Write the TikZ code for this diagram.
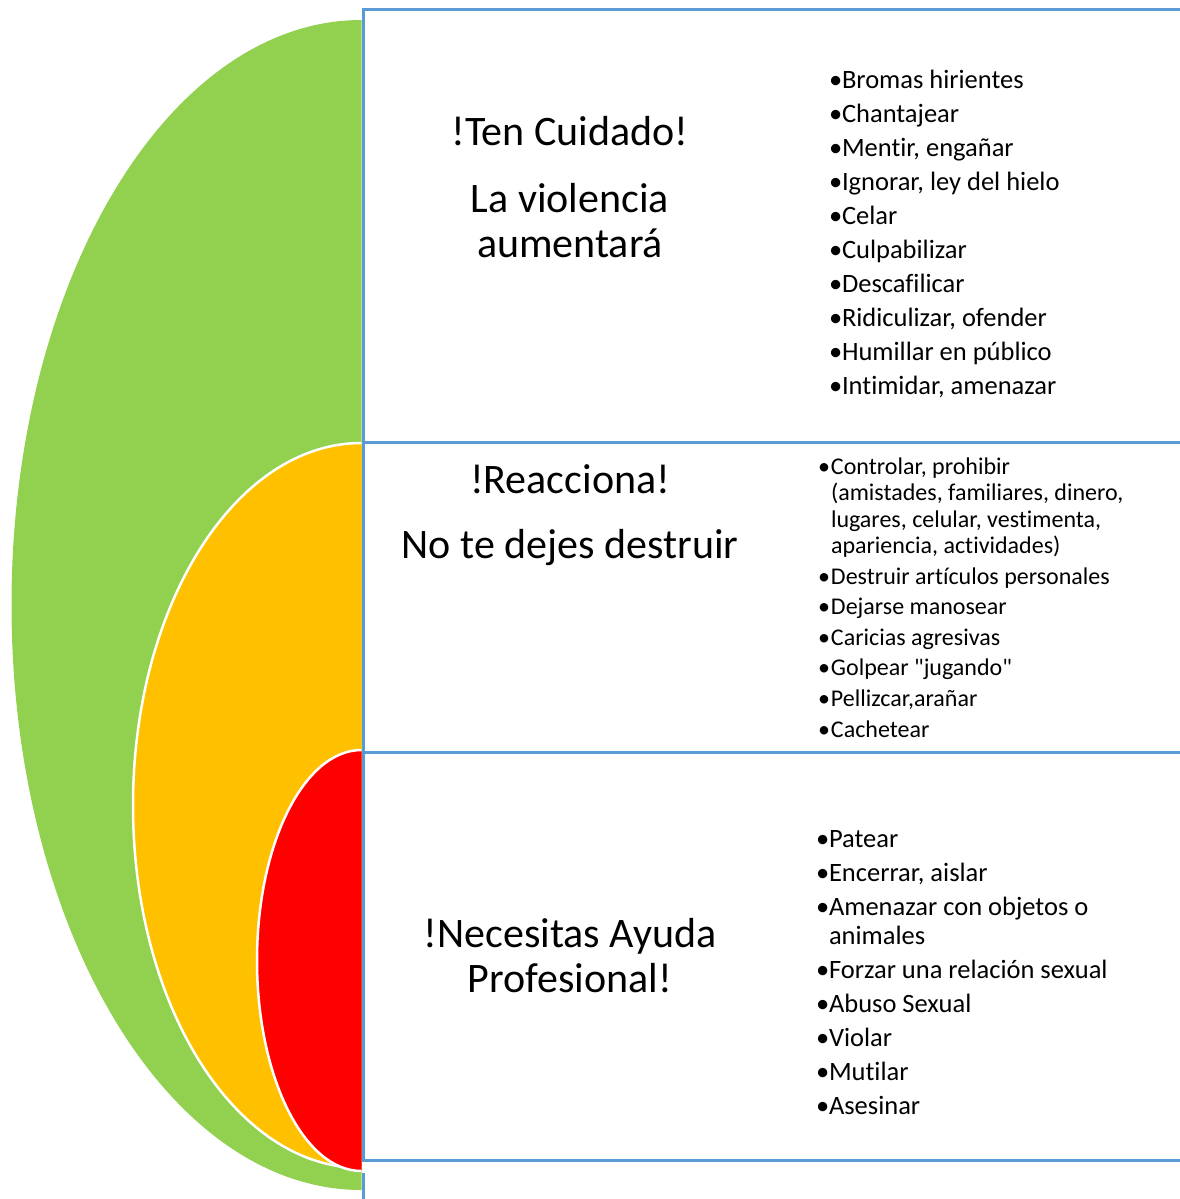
\documentclass[tikz,border=0pt]{standalone}
\usepackage{fontspec}
\setmainfont{Carlito}[Ligatures={TeXOff,CommonOff}]
\usepackage{xcolor}
\definecolor{lvlGreen}{HTML}{92D050}
\definecolor{lvlOrange}{HTML}{FFC000}
\definecolor{lvlRed}{HTML}{FF0000}
\definecolor{boxBlue}{HTML}{5B9BD5}
\newcommand{\bul}{\makebox[13pt][l]{•}}
\newcommand{\nobul}{\hspace*{13pt}}

\begin{document}
\begin{tikzpicture}[
  x=1pt,y=-1pt,
  every node/.style={inner sep=0pt,outer sep=0pt},
  panel/.style={draw=boxBlue,line width=3pt,rectangle,anchor=north west,minimum width=830pt},
  headtext/.style={font=\fontsize{42}{45}\selectfont,align=center,anchor=base},
  listbig/.style={font=\fontsize{26.5}{34}\selectfont,align=left,anchor=base west},
  listsmall/.style={font=\fontsize{24}{26.3}\selectfont,align=left,anchor=base west},
  rim/.style={draw=white,line width=2.5pt},
]
\useasboundingbox (0,0) rectangle (1180,1199);
\clip (0,0) rectangle (1180,1199);

% level shapes
\fill[lvlGreen] (361.5,20) arc[start angle=270,end angle=90,x radius=350,y radius=585] -- cycle;
\fill[lvlOrange] (361.5,443) arc[start angle=270,end angle=90,x radius=228.5,y radius=362.5] -- cycle;
\draw[rim] (361.5,443) arc[start angle=270,end angle=90,x radius=228.5,y radius=362.5];

% panels
\node[panel,minimum height=432pt] (top) at (363,10) {};
\node[panel,minimum height=310pt] (mid) at (363,442) {};
\node[panel,minimum height=408pt] (low) at (363,752) {};
\coordinate (stubA) at (363,1173);
\coordinate (stubB) at (363,1210);
\draw[boxBlue,line width=3pt] (stubA) -- (stubB);

\fill[lvlRed] (361.5,750) arc[start angle=270,end angle=90,x radius=104.5,y radius=210.5] -- cycle;
\draw[rim] (361.5,750) arc[start angle=270,end angle=90,x radius=104.5,y radius=210.5];

% headings
\node[headtext] (warn) at (570,257) {!Ten Cuidado!\\[22pt]La violencia\\aumentará};
\node[headtext] (react) at (570,558) {!Reacciona!\\[20pt]No te dejes destruir};
\node[headtext] (help) at (570,992) {!Necesitas Ayuda\\Profesional!};

% lists
\node[listbig] (warnlist) at (829,394) {\bul Bromas hirientes\\\bul Chantajear\\\bul Mentir, engañar\\\bul Ignorar, ley del hielo\\\bul Celar\\\bul Culpabilizar\\\bul Descafilicar\\\bul Ridiculizar, ofender\\\bul Humillar en público\\\bul Intimidar, amenazar};
\node[listsmall] (reactlist) at (818,737) {\bul Controlar, prohibir\\\nobul(amistades, familiares, dinero,\\\nobul lugares, celular, vestimenta,\\\nobul apariencia, actividades)\\[4.3pt]\bul Destruir artículos personales\\[4.3pt]\bul Dejarse manosear\\[4.3pt]\bul Caricias agresivas\\[4.3pt]\bul Golpear "jugando"\\[4.3pt]\bul Pellizcar,arañar\\[4.3pt]\bul Cachetear};
\node[listbig] (helplist) at (816,1114) {\bul Patear\\[0pt]\bul Encerrar, aislar\\\bul Amenazar con objetos o\\[-5pt]\nobul animales\\\bul Forzar una relación sexual\\\bul Abuso Sexual\\\bul Violar\\\bul Mutilar\\\bul Asesinar};
\end{tikzpicture}
\end{document}
